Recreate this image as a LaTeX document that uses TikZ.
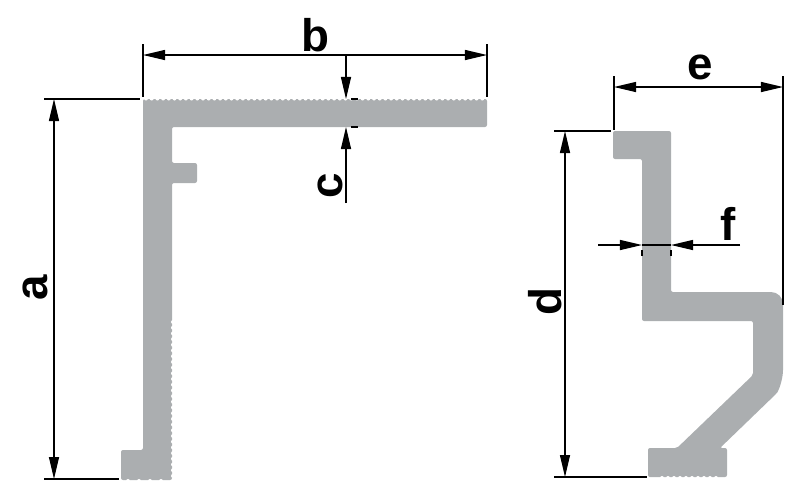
\documentclass[tikz,border=0pt]{standalone}
\usepackage{fontspec}
\setmainfont{Liberation Sans}
\usetikzlibrary{arrows.meta}
\definecolor{profilegray}{HTML}{ABAEB0}

\begin{document}
\begin{tikzpicture}[x=0.01cm,y=-0.01cm,
	profile/.style={fill=profilegray,draw=none},
	dimline/.style={line width=0.35pt,{Triangle[length=0.22cm,width=0.1cm]}-{Triangle[length=0.22cm,width=0.1cm]}},
	tipend/.style={line width=0.35pt,-{Triangle[length=0.22cm,width=0.1cm]}},
	extline/.style={line width=0.35pt},
	dimlabel/.style={font=\fontsize{13}{14}\selectfont\bfseries,inner sep=0pt}]
	\useasboundingbox (0,0) rectangle (800,490);
	% left profile
	\fill [profile,rounded corners=0.02cm] (143,99)--(487,99)--(487,127)--(172,127)--(172,163)--(197,163)--(197,183)--(172,183)--(172,480)--(121,480)--(121,450)--(143,450)--cycle;
	\foreach \tx in {146,151.7,...,487}
		\fill [white] (\tx,98.5) circle [radius=2];
	\foreach \ty in {322,327.7,...,478}
		\fill [white] (173,\ty) circle [radius=2];
	\foreach \tx in {128,139,150,161}
		\fill [white] (\tx,481) circle [radius=2];
	% right profile
	\fill [profile,rounded corners=0.02cm] (613,131)--(671,131)--(671,292)--(765,292)[rounded corners=0.12cm]--(783,292)--(783,382)[rounded corners=0.02cm]--(777,393)--(720,448)--(727,448)--(727,477)--(648,477)--(648,448)--(677,448)--(753,375)--(753,321)--(642,321)--(642,159)--(613,159)--cycle;
	\foreach \tx in {662,668,...,716}
		\fill [white] (\tx,478) circle [radius=2];
	% dimension a
	\coordinate (atop) at (54,99);
	\coordinate (abot) at (54,479);
	\coordinate (aexttop) at (44,99);
	\coordinate (aextend) at (140,99);
	\coordinate (aextbot) at (44,479);
	\coordinate (aextfoot) at (119,479);
	\draw [dimline] (atop)--(abot);
	\draw [extline] (aexttop)--(aextend);
	\draw [extline] (aextbot)--(aextfoot);
	\node (labela) [dimlabel,rotate=90] at (35,288) {a};
	% dimension b
	\coordinate (bleft) at (143,55);
	\coordinate (bright) at (487,55);
	\coordinate (bextleft) at (143,44);
	\coordinate (bdownleft) at (143,97);
	\coordinate (bextright) at (487,44);
	\coordinate (bdownright) at (487,97);
	\draw [dimline] (bleft)--(bright);
	\draw [extline] (bextleft)--(bdownleft);
	\draw [extline] (bextright)--(bdownright);
	\node (labelb) [dimlabel] at (315,35) {b};
	% dimension c
	\coordinate (cup) at (346,55);
	\coordinate (ctop) at (346,99);
	\coordinate (cbot) at (346,127);
	\coordinate (cdown) at (346,203);
	\coordinate (ctickA) at (351,99);
	\coordinate (ctickB) at (358,99);
	\coordinate (ctickC) at (351,127);
	\coordinate (ctickD) at (358,127);
	\draw [tipend] (cup)--(ctop);
	\draw [tipend] (cdown)--(cbot);
	\draw [extline] (ctickA)--(ctickB);
	\draw [extline] (ctickC)--(ctickD);
	\node (labelc) [dimlabel,rotate=90] at (330,186) {c};
	% dimension d
	\coordinate (dtop) at (565,131);
	\coordinate (dbot) at (565,477);
	\coordinate (dexttop) at (554,131);
	\coordinate (dextend) at (611,131);
	\coordinate (dextbot) at (554,477);
	\coordinate (dextfoot) at (647,477);
	\draw [dimline] (dtop)--(dbot);
	\draw [extline] (dexttop)--(dextend);
	\draw [extline] (dextbot)--(dextfoot);
	\node (labeld) [dimlabel,rotate=90] at (545,302) {d};
	% dimension e
	\coordinate (eleft) at (614,87);
	\coordinate (eright) at (783,87);
	\coordinate (eextleft) at (614,76);
	\coordinate (edownleft) at (614,130);
	\coordinate (eextright) at (783,76);
	\coordinate (edownright) at (783,305);
	\draw [dimline] (eleft)--(eright);
	\draw [extline] (eextleft)--(edownleft);
	\draw [extline] (eextright)--(edownright);
	\node (labele) [dimlabel] at (700,67) {e};
	% dimension f
	\coordinate (fout) at (598,245);
	\coordinate (fleft) at (642,245);
	\coordinate (fright) at (671,245);
	\coordinate (fend) at (740,245);
	\coordinate (ftickA) at (642,250);
	\coordinate (ftickB) at (642,256);
	\coordinate (ftickC) at (671,250);
	\coordinate (ftickD) at (671,256);
	\draw [tipend] (fout)--(fleft);
	\draw [tipend] (fend)--(fright);
	\draw [extline] (fleft)--(fright);
	\draw [extline] (ftickA)--(ftickB);
	\draw [extline] (ftickC)--(ftickD);
	\node (labelf) [dimlabel] at (728,224) {f};
\end{tikzpicture}
\end{document}
